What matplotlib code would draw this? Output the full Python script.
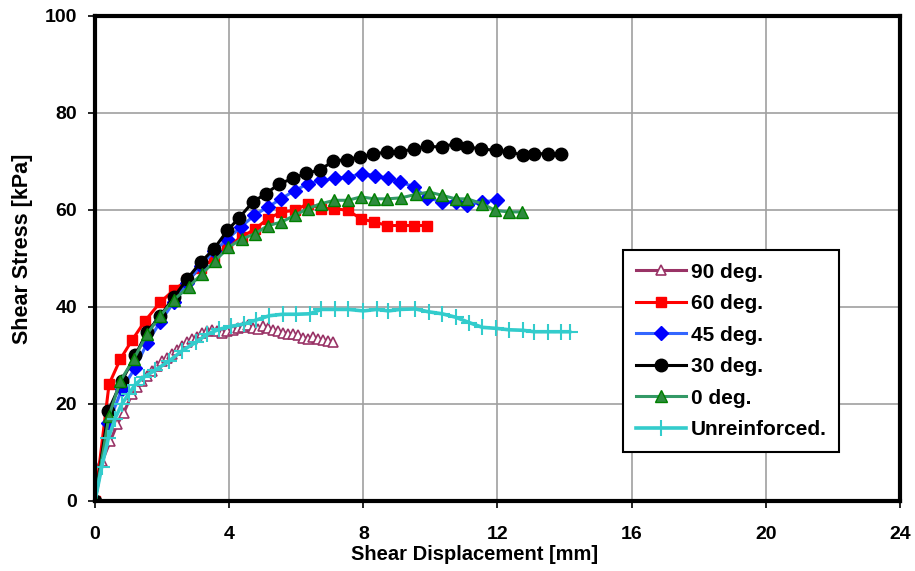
import matplotlib
matplotlib.use("Agg")
import matplotlib.pyplot as plt

plt.rcParams['font.family'] = ['Liberation Sans', 'DejaVu Sans']
plt.rcParams['font.weight'] = 'bold'

# Data (shear displacement [mm], shear stress [kPa])
x_90 = [0, 0.22, 0.46, 0.66, 0.86, 1.1, 1.25, 1.4, 1.55, 1.7, 1.85, 2.0, 2.15, 2.3, 2.45,
        2.6, 2.75, 2.9, 3.05, 3.2, 3.35, 3.5, 3.65, 3.8, 3.95, 4.1, 4.25, 4.4, 4.55, 4.7,
        4.85, 5.0, 5.15, 5.3, 5.45, 5.6, 5.75, 5.9, 6.05, 6.2, 6.35, 6.5, 6.65, 6.8, 6.95, 7.1]
y_90 = [0, 8.3, 12.4, 15.8, 18.2, 22.0, 23.5, 24.8, 25.8, 26.9, 27.8, 28.8, 29.5, 30.3, 31.2,
        31.9, 32.7, 33.3, 33.9, 34.6, 35.1, 35.3, 35.0, 34.7, 35.0, 35.2, 35.6, 35.9, 36.2, 35.7,
        35.4, 36.0, 35.6, 35.2, 35.0, 34.7, 34.5, 34.4, 34.3, 33.6, 33.5, 33.8, 33.3, 33.1, 33.0, 32.8]

x_60 = [0, 0.42, 0.76, 1.1, 1.5, 1.95, 2.35, 2.75, 3.15, 3.55, 3.95, 4.37, 4.77, 5.16, 5.56,
        5.95, 6.35, 6.74, 7.14, 7.54, 7.93, 8.33, 8.72, 9.12, 9.51, 9.91]
y_60 = [0, 24.1, 29.3, 33.1, 37.2, 41.0, 43.5, 45.5, 48.0, 50.0, 52.5, 54.4, 56.1, 58.2, 59.6,
        59.9, 61.3, 60.3, 60.3, 59.9, 58.2, 57.5, 56.8, 56.8, 56.8, 56.8]

x_45 = [0, 0.4, 0.8, 1.2, 1.55, 1.95, 2.35, 2.75, 3.15, 3.55, 3.95, 4.35, 4.75, 5.15, 5.55,
        5.95, 6.35, 6.75, 7.15, 7.55, 7.95, 8.35, 8.75, 9.1, 9.5, 9.9, 10.35, 10.75, 11.1, 11.55, 12.0]
y_45 = [0, 16.0, 23.0, 27.5, 32.5, 37.0, 41.0, 45.0, 48.5, 51.5, 54.0, 56.5, 58.9, 60.6, 62.3,
        64.0, 65.4, 66.1, 66.5, 66.8, 67.5, 67.1, 66.5, 65.8, 64.8, 62.5, 61.7, 61.7, 61.0, 61.7, 62.0]

x_30 = [0, 0.4, 0.8, 1.2, 1.55, 1.95, 2.35, 2.75, 3.15, 3.55, 3.95, 4.3, 4.7, 5.1, 5.5, 5.9,
        6.3, 6.7, 7.1, 7.5, 7.9, 8.3, 8.7, 9.1, 9.5, 9.9, 10.35, 10.75, 11.1, 11.5, 11.95,
        12.35, 12.75, 13.1, 13.5, 13.9]
y_30 = [0, 18.6, 24.8, 30.0, 34.8, 38.2, 42.0, 45.8, 49.2, 52.0, 55.8, 58.4, 61.6, 63.4, 65.4, 66.5,
        67.6, 68.2, 70.1, 70.4, 70.9, 71.5, 72.0, 72.0, 72.6, 73.1, 73.0, 73.7, 73.0, 72.6, 72.3,
        72.0, 71.3, 71.6, 71.6, 71.6]

x_0 = [0, 0.42, 0.76, 1.16, 1.55, 1.95, 2.35, 2.79, 3.18, 3.58, 3.98, 4.37, 4.77, 5.16, 5.56,
       5.95, 6.35, 6.74, 7.14, 7.54, 7.93, 8.33, 8.72, 9.12, 9.56, 9.96, 10.36, 10.75, 11.1,
       11.54, 11.94, 12.33, 12.73]
y_0 = [0, 17.6, 24.8, 29.3, 34.4, 38.2, 41.5, 44.1, 46.8, 49.5, 52.3, 54.0, 55.1, 56.8, 57.5,
       58.9, 60.3, 61.3, 62.0, 62.0, 62.7, 62.3, 62.3, 62.5, 63.2, 63.7, 63.0, 62.3, 62.3,
       61.3, 59.9, 59.6, 59.6]

x_un = [0, 0.2, 0.4, 0.6, 0.8, 1.0, 1.2, 1.45, 1.8, 2.2, 2.6, 3.0, 3.35, 3.7, 4.05, 4.45, 4.8,
        5.2, 5.6, 6.0, 6.4, 6.75, 7.15, 7.55, 8.0, 8.4, 8.75, 9.1, 9.55, 9.95, 10.35, 10.75,
        11.15, 11.55, 11.95, 12.35, 12.75, 13.1, 13.5, 13.9, 14.15]
y_un = [0, 7.0, 13.0, 17.0, 20.0, 22.0, 24.0, 25.5, 27.0, 28.8, 31.0, 32.7, 34.4, 35.4, 36.0, 36.5,
        37.3, 38.2, 38.5, 38.5, 38.6, 39.5, 39.5, 39.5, 39.2, 39.5, 39.2, 39.5, 39.6, 39.0, 38.6,
        37.9, 36.8, 35.8, 35.6, 35.3, 35.2, 34.9, 34.9, 34.9, 34.9]

fig = plt.figure(figsize=(9.15, 5.71), dpi=100)
ax = fig.add_axes([0.1038, 0.1226, 0.8798, 0.8494])

ax.plot(x_90, y_90, color='#993366', lw=2.2, marker='^', ms=7, mfc='white', mec='#993366',
        mew=1.2, label='90 deg.')
ax.plot(x_60, y_60, color='#FF0000', lw=2.2, marker='s', ms=7, mfc='#FF0000', mec='#FF0000',
        label='60 deg.')
ax.plot(x_45, y_45, color='#3366FF', lw=2.2, marker='D', ms=7, mfc='#0000FF', mec='#0000FF',
        label='45 deg.')
ax.plot(x_30, y_30, color='black', lw=2.2, marker='o', ms=9, mfc='black', mec='black',
        label='30 deg.')
ax.plot(x_0, y_0, color='#339966', lw=2.2, marker='^', ms=8, mfc='#2E8B3E', mec='#008000',
        label='0 deg.')
ax.plot(x_un, y_un, color='#33CCCC', lw=2.6, marker='+', ms=12, mew=1.5, mec='#33CCCC',
        label='Unreinforced.')

ax.set_xlim(0, 24)
ax.set_ylim(0, 100)
ax.set_xticks(range(0, 25, 4))
ax.set_yticks(range(0, 101, 20))
ax.grid(True, color='#a0a0a0', lw=1.2)
ax.set_axisbelow(True)
for s in ax.spines.values():
    s.set_linewidth(3)
    s.set_color('black')
ax.tick_params(direction='out', length=5, width=1.2, labelsize=14)
ax.tick_params(axis='x', pad=13)
ax.tick_params(axis='y', pad=8)

ax.set_xlabel('Shear Displacement [mm]', fontsize=14.5, fontweight='bold')
ax.set_ylabel('Shear Stress [kPa]', fontsize=15.5, fontweight='bold')
ax.xaxis.set_label_coords(0.472, -0.09)
ax.yaxis.set_label_coords(-0.077, 0.52)

leg = ax.legend(loc='upper left', bbox_to_anchor=(0.656, 0.5175), numpoints=1,
                fontsize=15, handlelength=2.4, labelspacing=0.6, borderpad=0.6,
                handletextpad=0.25, borderaxespad=0, fancybox=False, framealpha=1,
                edgecolor='black')
leg.get_frame().set_linewidth(1.5)

fig.savefig('out.png', dpi=100)
